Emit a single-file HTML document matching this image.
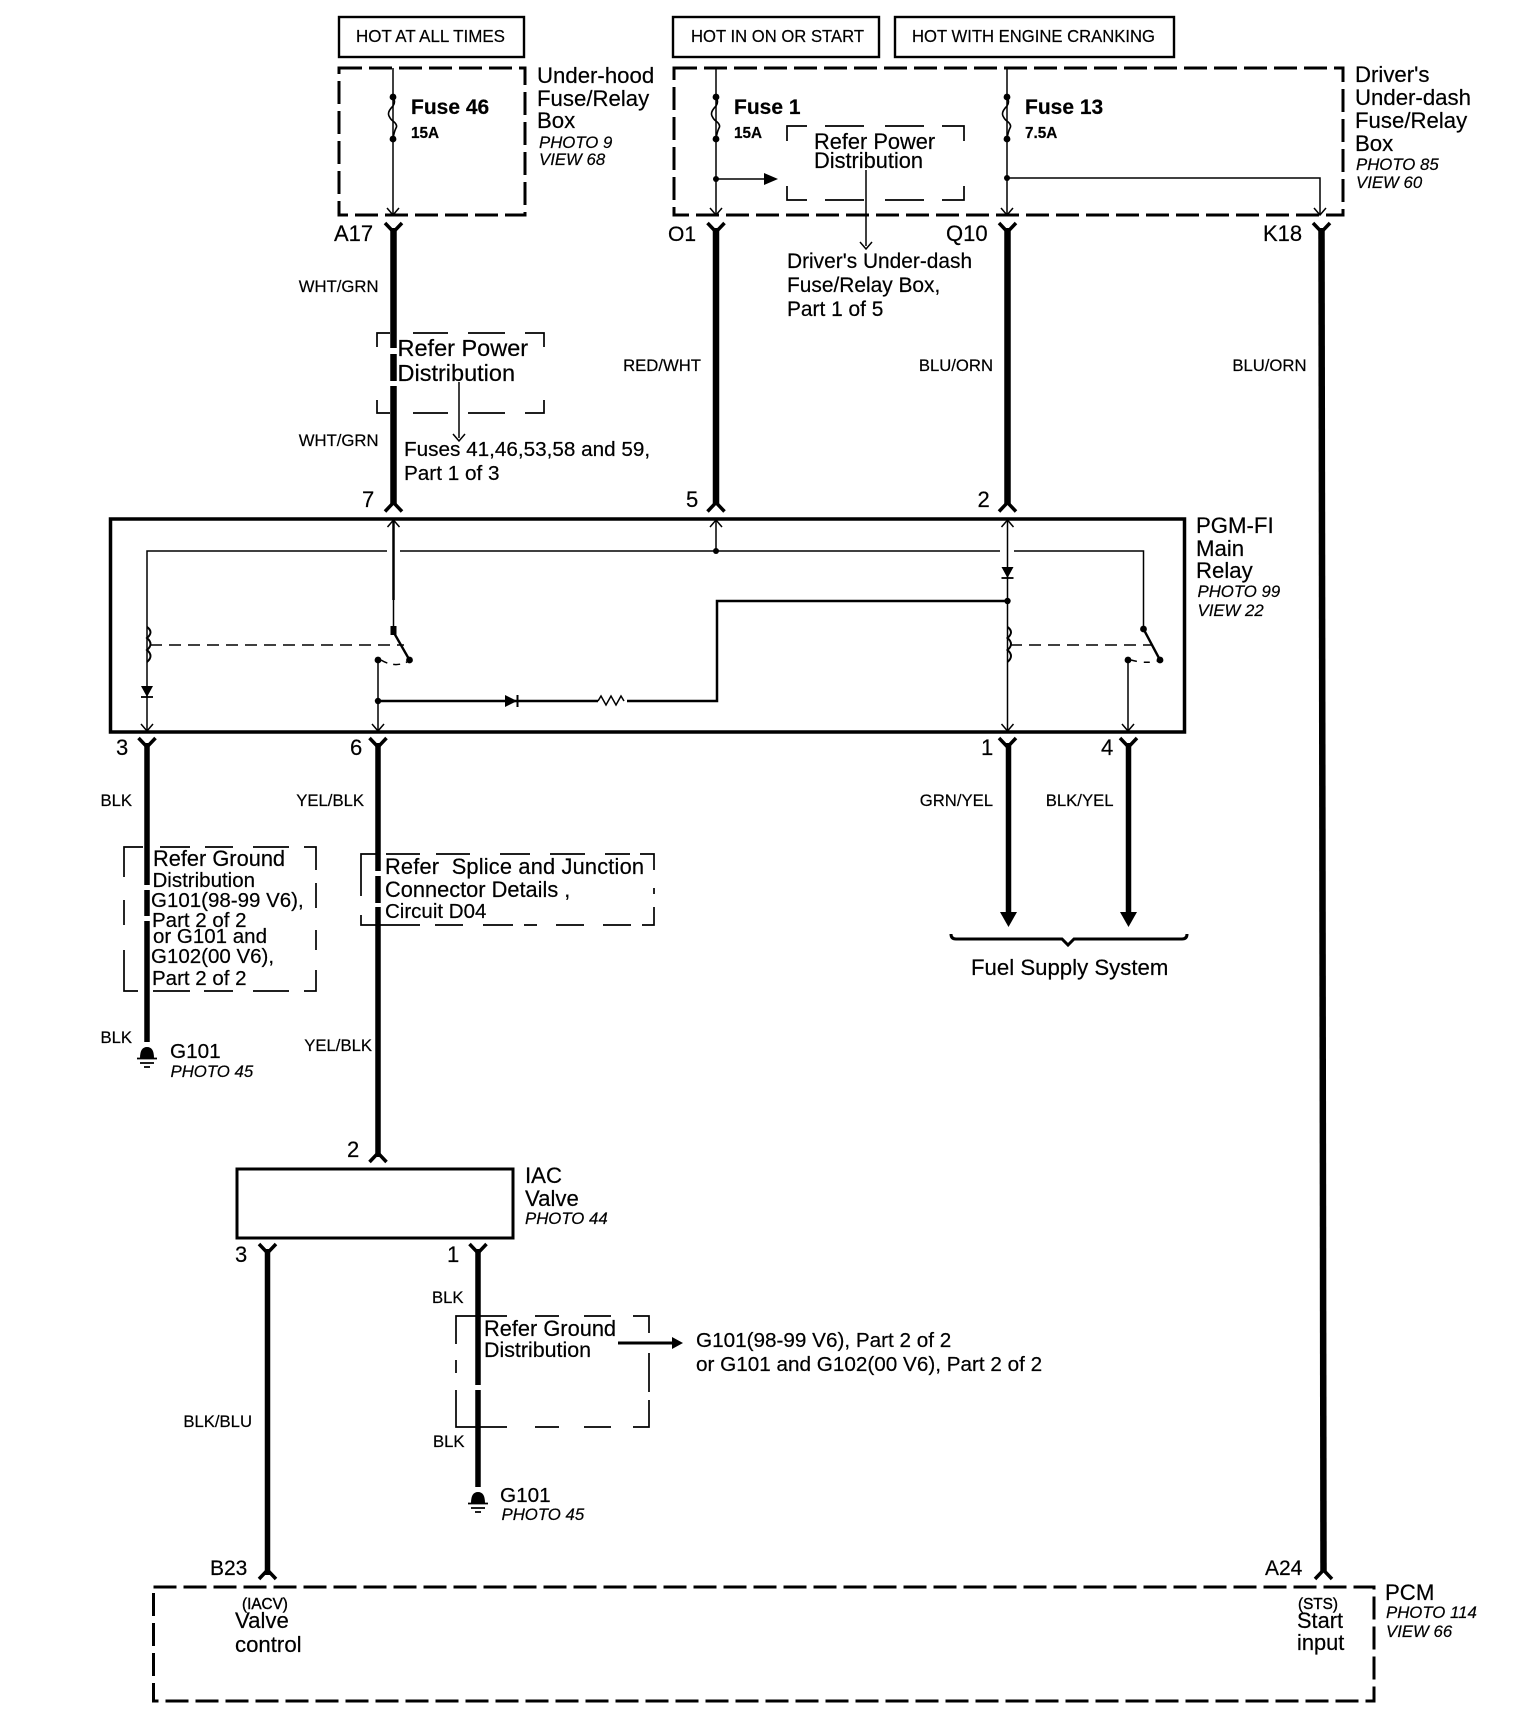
<!DOCTYPE html>
<html><head><meta charset="utf-8"><style>
html,body{margin:0;padding:0;background:#fff}
svg{display:block}
text{font-family:"Liberation Sans",Arial,sans-serif;fill:#000;stroke:#000;stroke-width:.2;white-space:pre}
.l{font-size:22.2px}.m{font-size:20.7px}.r{font-size:21.8px}.s{font-size:20.5px}.w{font-size:16.7px;text-anchor:end}
.i{font-size:16.8px;font-style:italic}.f{font-size:21px;font-weight:bold}.a{font-size:15.3px;font-weight:bold}
.h{font-size:17.2px}.n{font-size:22px}
.bw{fill:none;stroke:#000;stroke-width:6.5}.mw{fill:none;stroke:#000;stroke-width:5.5}
.t{fill:none;stroke:#000;stroke-width:1.5}.t2{fill:none;stroke:#000;stroke-width:2.5}
.d{fill:none;stroke:#000;stroke-width:3;stroke-dasharray:23 7}
.td{fill:none;stroke:#000;stroke-width:1.7}
</style></head><body>
<svg width="1520" height="1722" viewBox="0 0 1520 1722" xmlns="http://www.w3.org/2000/svg">
<defs>
<g id="cd"><path d="M-8.5 0L0 9L8.5 0" fill="none" stroke="#000" stroke-width="3.5"/></g>
<g id="cu"><path d="M-8.5 0L0 -9L8.5 0" fill="none" stroke="#000" stroke-width="3.5"/></g>
<g id="av"><path d="M-6 -7L0 0L6 -7" fill="none" stroke="#000" stroke-width="1.5"/></g>
<g id="au"><path d="M-6 7L0 0L6 7" fill="none" stroke="#000" stroke-width="1.5"/></g>
<g id="fz"><circle cx="0" cy="97" r="3.4"/><circle cx="0" cy="139" r="3.4"/><path d="M0 97q3 5 0 9q-6 6 -4 10q2 4 4 5q5 4 3 7q-2 4 -3 11" fill="none" stroke="#000" stroke-width="1.6"/></g>
<g id="cl"><path d="M0 627q7 5 0 11q7 6 0 12q7 6 0 12" fill="none" stroke="#000" stroke-width="2"/></g>
<g id="dd"><path d="M-6 -6H6L0 5Z"/><path d="M-6 5H6" stroke="#000" stroke-width="1.8"/></g>
<g id="gd"><path d="M-7 11Q-7 0 0 0Q7 0 7 11Z"/><path d="M-10 11.5H10M-7 16H7M-3 20H3" stroke="#000" stroke-width="1.7"/></g>
</defs>

<!-- top boxes -->
<rect x="339" y="17" width="185" height="40" fill="none" stroke="#000" stroke-width="2.4"/>
<rect x="673" y="17" width="206" height="40" fill="none" stroke="#000" stroke-width="2.4"/>
<rect x="895" y="17" width="279" height="40" fill="none" stroke="#000" stroke-width="2.4"/>
<text class="h" x="356" y="42" textLength="149" lengthAdjust="spacingAndGlyphs">HOT AT ALL TIMES</text>
<text class="h" x="691" y="42" textLength="173" lengthAdjust="spacingAndGlyphs">HOT IN ON OR START</text>
<text class="h" x="912" y="42" textLength="243" lengthAdjust="spacingAndGlyphs">HOT WITH ENGINE CRANKING</text>

<!-- fuse boxes -->
<rect class="d" x="339" y="68" width="186" height="147"/>
<rect class="d" x="674" y="68" width="669" height="147"/>
<path class="t" d="M393 68V215M716 68V215M1007 68V215M716 179H765M1007 178H1320V215M866 170V246"/>
<use href="#fz" x="393"/><use href="#fz" x="716"/><use href="#fz" x="1007"/>
<circle cx="716" cy="179" r="3"/><circle cx="1007" cy="178" r="3"/>
<path d="M764 173L778 179L764 185Z"/>
<use href="#av" x="393" y="215"/><use href="#av" x="716" y="215"/><use href="#av" x="1007" y="215"/><use href="#av" x="1320" y="215"/><use href="#av" x="866" y="249"/>
<path class="td" d="M787 141V126H807M825 126H864M885 126H924M942 126H964V141M787 186V200H807M825 200H864M885 200H924M942 200H964V186"/>
<text class="f" x="411" y="114">Fuse 46</text><text class="a" x="411" y="138">15A</text>
<text class="f" x="734" y="114">Fuse 1</text><text class="a" x="734" y="138">15A</text>
<text class="f" x="1025" y="114">Fuse 13</text><text class="a" x="1025" y="138">7.5A</text>
<text class="r" x="814" y="149">Refer Power</text><text class="r" x="814" y="168">Distribution</text>
<text class="l" x="537" y="83">Under-hood</text><text class="l" x="537" y="106">Fuse/Relay</text><text class="l" x="537" y="128">Box</text>
<text class="i" x="539" y="148">PHOTO 9</text><text class="i" x="539" y="165">VIEW 68</text>
<text class="l" x="1355" y="82">Driver's</text><text class="l" x="1355" y="105">Under-dash</text><text class="l" x="1355" y="128">Fuse/Relay</text><text class="l" x="1355" y="151">Box</text>
<text class="i" x="1356" y="170">PHOTO 85</text><text class="i" x="1356" y="188">VIEW 60</text>
<text class="m" x="787" y="268" style="font-size:20.9px">Driver's Under-dash</text><text class="m" x="787" y="292" style="font-size:20.9px">Fuse/Relay Box,</text><text class="m" x="787" y="316" style="font-size:20.9px">Part 1 of 5</text>

<!-- connector names -->
<text class="n" x="334" y="241">A17</text><text class="n" x="668" y="241" style="font-size:21px">O1</text><text class="n" x="946" y="241">Q10</text><text class="n" x="1263" y="241">K18</text>

<!-- upper wires -->
<path class="bw" d="M393.5 228V348M393.5 354V381M393.5 386V505M716 228V505M1007.5 228V505"/>
<path class="bw" stroke-width="6" d="M1321.5 228L1323.5 1572"/>
<use href="#cd" x="393.5" y="223"/><use href="#cd" x="716" y="223"/><use href="#cd" x="1007.5" y="223"/><use href="#cd" x="1321.5" y="223"/>
<use href="#cu" x="393.5" y="511.5"/><use href="#cu" x="716" y="511.5"/><use href="#cu" x="1007.5" y="511.5"/>
<text class="w" x="378.5" y="292">WHT/GRN</text><text class="w" x="378.5" y="446">WHT/GRN</text>
<text class="w" x="701" y="371">RED/WHT</text><text class="w" x="993" y="371">BLU/ORN</text><text class="w" x="1306.5" y="371">BLU/ORN</text>

<!-- Refer Power 2 -->
<path class="td" stroke-width="2" d="M377 347V333H390M413 333H448M468 333H505M525 333H544V347M377 400V413H390M413 413H448M468 413H505M525 413H544V400"/>
<text x="397.5" y="356" style="font-size:23.5px">Refer Power</text><text x="397.5" y="381" style="font-size:23.5px">Distribution</text>
<path class="t" stroke-width="2" d="M459 382V438"/><use href="#av" x="459" y="441"/>
<text class="m" x="404" y="456">Fuses 41,46,53,58 and 59,</text><text class="m" x="404" y="480">Part 1 of 3</text>

<!-- relay -->
<text class="n" x="362" y="507">7</text><text class="n" x="686" y="507">5</text><text class="n" x="977.5" y="507">2</text>
<rect x="110.5" y="519" width="1074" height="213" fill="none" stroke="#000" stroke-width="3.5"/>
<text class="l" x="1196" y="533">PGM-FI</text><text class="l" x="1196" y="556">Main</text><text class="l" x="1196" y="578">Relay</text>
<text class="i" x="1197.5" y="597">PHOTO 99</text><text class="i" x="1197.5" y="616">VIEW 22</text>
<path class="t" stroke-width="2" d="M147 732V551H387M400 551H1000M1014 551H1143.5V629M716 551V521"/>
<path class="t2" d="M393.5 521V600"/><path class="t" d="M393.5 600V630M1007.5 521V732M378 660V732M1128 660V732"/>
<circle cx="716" cy="551" r="3"/>
<use href="#au" x="393.5" y="520"/><use href="#au" x="716" y="520"/><use href="#au" x="1007.5" y="520"/>
<use href="#av" x="147" y="731"/><use href="#av" x="378" y="731"/><use href="#av" x="1007.5" y="731"/><use href="#av" x="1128" y="731"/>
<path class="t2" d="M378 701H598M627 701H717V601H1007.5"/><path class="t" d="M598 701l3 -5l5 9l5 -9l5 9l5 -9l3 5"/>
<circle cx="378" cy="701" r="3.2"/><circle cx="1007.5" cy="601" r="3.2"/>
<path d="M505 695L517 701L505 707Z"/><path d="M517.5 695V707" stroke="#000" stroke-width="2"/>
<use href="#dd" x="147" y="692"/><use href="#dd" x="1007.5" y="573"/>
<use href="#cl" x="147"/><use href="#cl" x="1007.5"/>
<path class="t" stroke-dasharray="12 7" d="M150 645H404M1010 645H1152"/>
<!-- switches -->
<rect x="390.5" y="626" width="6" height="9"/><path d="M393.5 632L409.5 660" stroke="#000" stroke-width="2.4"/><circle cx="409.5" cy="660" r="3.4"/><circle cx="378" cy="660" r="3.4"/>
<path class="t" stroke-dasharray="7 6" stroke-width="2" d="M381 660Q394 668 407 662"/>
<circle cx="1143.5" cy="629" r="3.4"/><path d="M1143.5 629L1160 660" stroke="#000" stroke-width="2.4"/><circle cx="1160" cy="660" r="3.4"/><circle cx="1128" cy="660" r="3.4"/>
<path class="t" stroke-dasharray="6 7" stroke-width="2" d="M1131 660Q1145 664 1158 661"/>

<!-- relay lower -->
<text class="n" x="116" y="755">3</text><text class="n" x="350" y="755">6</text><text class="n" x="981" y="755">1</text><text class="n" x="1101" y="755">4</text>
<use href="#cd" x="147" y="738"/><use href="#cd" x="378" y="738"/><use href="#cd" x="1007.5" y="738"/><use href="#cd" x="1128.5" y="738"/>
<path class="mw" d="M147 743V885M147 890V916M147 921V1042M378 743V871M378 876V903M378 907V1157M1008.5 743V912M1128.5 743V912"/>
<path d="M1000 912H1017L1008.5 927Z"/><path d="M1120 912H1137L1128.5 927Z"/>
<path fill="none" stroke="#000" stroke-width="3" d="M951 934Q951 939 956 939H1062L1068 945L1074 939H1182Q1187 939 1187 934"/>
<text class="l" x="971" y="975">Fuel Supply System</text>
<text class="w" x="132" y="806">BLK</text><text class="w" x="364" y="806">YEL/BLK</text>
<text class="w" x="993" y="806">GRN/YEL</text><text class="w" x="1113.5" y="806">BLK/YEL</text>
<text class="w" x="132" y="1043">BLK</text><text class="w" x="372" y="1051">YEL/BLK</text>

<!-- Refer Ground 1 -->
<path class="td" d="M124 877V847H143M160 847H190M205 847H233M253 847H289M304 847H316V870M316 883V908M316 930V950M316 970V991H304M289 991H253M233 991H204M190 991H153M138 991H124V950M124 925V900"/>
<text class="r" x="153" y="866">Refer Ground</text><text class="s" x="152.5" y="887">Distribution</text>
<text class="s" x="151" y="907">G101(98-99 V6),</text><text class="s" x="152" y="927">Part 2 of 2</text>
<text class="s" x="153" y="943">or G101 and</text><text class="s" x="151" y="963">G102(00 V6),</text><text class="s" x="152" y="985">Part 2 of 2</text>
<use href="#gd" x="147" y="1047"/>
<text class="m" x="170" y="1058">G101</text><text class="i" x="170.5" y="1077">PHOTO 45</text>

<!-- Refer Splice -->
<path class="td" d="M361 870V854H376M386 854H420M436 854H470M500 854H530M550 854H585M605 854H630M640 854H654V870M654 888V894M654 907V925H642M631 925H603M584 925H556M537 925H524M513 925H483M463 925H435M420 925H361V915M361 896V870"/>
<text class="r" x="385" y="874" textLength="259" lengthAdjust="spacing">Refer  Splice and Junction</text>
<text class="r" x="385" y="897">Connector Details ,</text>
<text class="s" x="385" y="918">Circuit D04</text>

<!-- IAC -->
<text class="n" x="347" y="1157">2</text>
<use href="#cu" x="378" y="1162"/>
<rect x="237" y="1169" width="276" height="69" fill="none" stroke="#000" stroke-width="3"/>
<text class="l" x="525" y="1183">IAC</text><text class="l" x="525" y="1206">Valve</text><text class="i" x="525" y="1224">PHOTO 44</text>
<text class="n" x="235" y="1262">3</text><text class="n" x="447" y="1262">1</text>
<use href="#cd" x="267.5" y="1244"/><use href="#cd" x="478" y="1244"/>
<path class="mw" d="M267.5 1249V1575M478 1249V1385M478 1390V1487"/>
<text class="w" x="252" y="1427">BLK/BLU</text>
<text class="w" x="463.5" y="1303">BLK</text><text class="w" x="464.5" y="1447">BLK</text>
<path class="td" d="M456 1344V1316H507M535 1316H559M584 1316H611M633 1316H649V1333M649 1353V1392M649 1400V1427H633M611 1427H584M559 1427H535M507 1427H456V1390M456 1373V1360"/>
<text class="r" x="484" y="1336">Refer Ground</text><text class="r" x="484" y="1357" style="font-size:21.4px">Distribution</text>
<path stroke="#000" stroke-width="3" d="M618 1343H674"/><path d="M672 1337L683 1343L672 1349Z"/>
<text class="m" x="696" y="1347">G101(98-99 V6), Part 2 of 2</text><text class="m" x="696" y="1371">or G101 and G102(00 V6), Part 2 of 2</text>
<use href="#gd" x="478" y="1492"/>
<text class="m" x="500" y="1502">G101</text><text class="i" x="501.5" y="1520">PHOTO 45</text>

<!-- PCM -->
<text class="n" x="210" y="1575" style="font-size:21px">B23</text><text class="n" x="1265" y="1575" style="font-size:21px">A24</text>
<use href="#cu" x="267.5" y="1579"/><use href="#cu" x="1323.5" y="1579"/>
<rect class="d" x="153.5" y="1587" width="1220.5" height="114"/>
<text class="a" x="242" y="1609" style="font-weight:normal;stroke-width:.4">(IACV)</text><text class="l" x="235" y="1628">Valve</text><text class="l" x="235" y="1652">control</text>
<text class="a" x="1298" y="1609" style="font-weight:normal;stroke-width:.4">(STS)</text><text class="r" x="1297" y="1628">Start</text><text class="r" x="1297" y="1650">input</text>
<text class="l" x="1385" y="1600">PCM</text><text class="i" x="1386" y="1618">PHOTO 114</text><text class="i" x="1386" y="1637">VIEW 66</text>
</svg>
</body></html>
